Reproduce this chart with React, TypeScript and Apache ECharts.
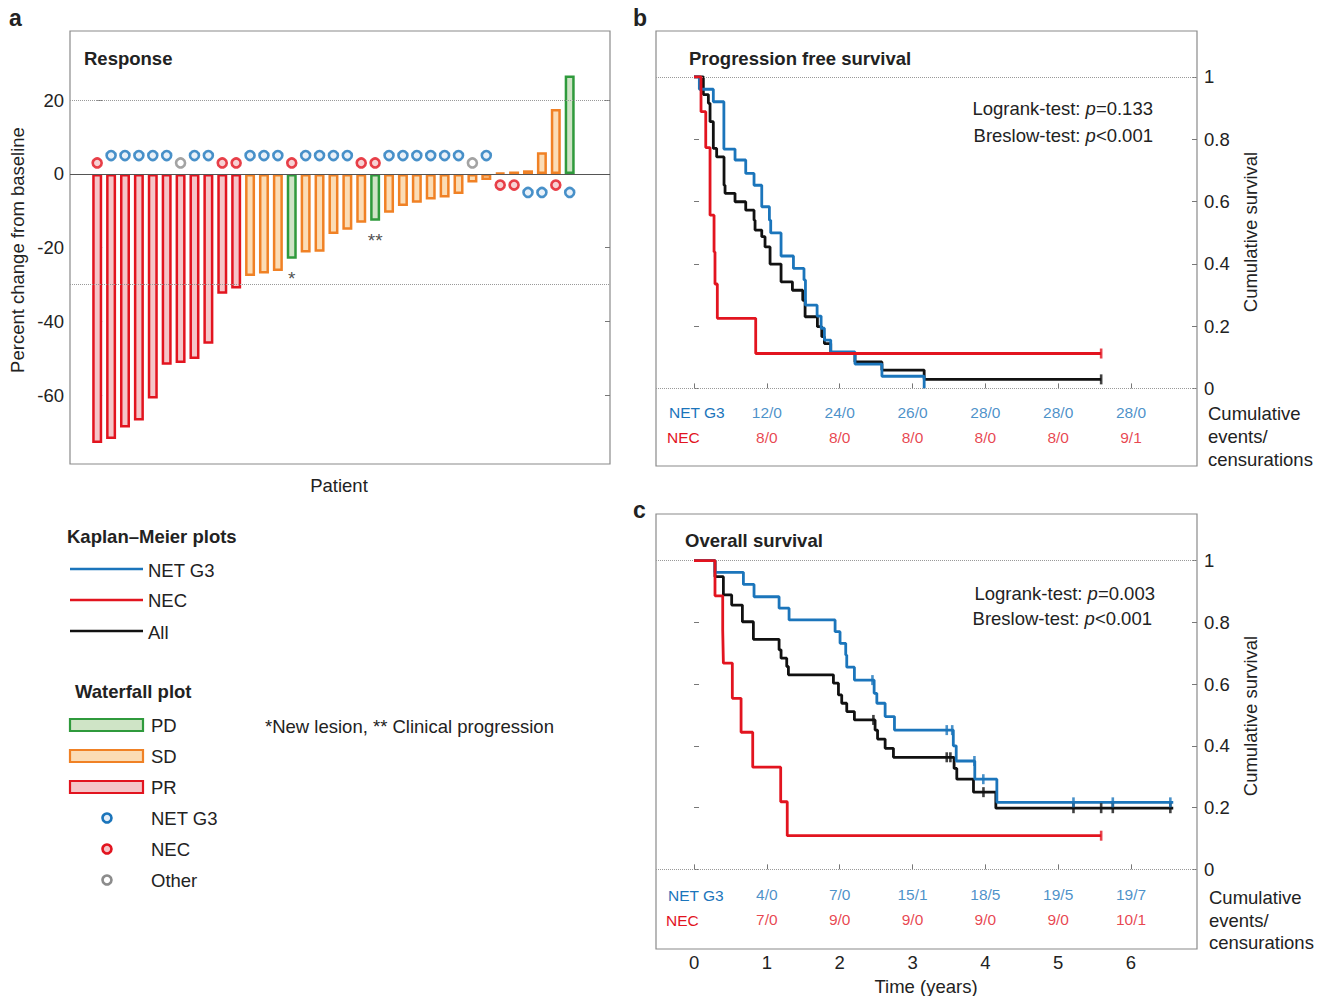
import React, { useEffect, useRef } from 'react';
import * as echarts from 'echarts';

const FONT = '"Liberation Sans", Arial, Helvetica, sans-serif';
const FS = 18.5;

// ---------- Waterfall data ----------
const barValues = [-73.0, -71.9, -68.8, -66.9, -60.9, -51.8, -51.3, -50.2, -46.1, -32.5, -31.1,
  -27.7, -27.0, -26.3, -23.0, -21.3, -21.1, -16.3, -15.1, -13.2, -12.7, -10.5, -8.7, -7.8, -6.9,
  -6.4, -5.4, -2.3, -1.6, 0.3, 0.7, 1.0, 5.9, 17.6, 26.7];
const barResponse = ['PR', 'PR', 'PR', 'PR', 'PR', 'PR', 'PR', 'PR', 'PR', 'PR', 'PR',
  'SD', 'SD', 'SD', 'PD', 'SD', 'SD', 'SD', 'SD', 'SD', 'PD', 'SD', 'SD', 'SD', 'SD',
  'SD', 'SD', 'SD', 'SD', 'SD', 'SD', 'SD', 'SD', 'SD', 'PD'];
const barGroup = ['NEC', 'NET', 'NET', 'NET', 'NET', 'NET', 'Other', 'NET', 'NET', 'NEC', 'NEC',
  'NET', 'NET', 'NET', 'NEC', 'NET', 'NET', 'NET', 'NET', 'NEC', 'NEC', 'NET', 'NET', 'NET', 'NET',
  'NET', 'NET', 'Other', 'NET', 'NEC', 'NEC', 'NET', 'NET', 'NEC', 'NET'];
const barNotes = ['', '', '', '', '', '', '', '', '', '', '', '', '', '', '*', '', '', '', '', '', '**',
  '', '', '', '', '', '', '', '', '', '', '', '', '', ''];
const waterfallTicks = [-60, -40, -20, 0, 20];
const waterfallRefLines = [20, -30];

// ---------- Kaplan-Meier data: [years, survival] ----------
const pfsNec = [[0, 1], [0.096, 0.888], [0.161, 0.773], [0.22, 0.556], [0.275, 0.438], [0.288, 0.335],
  [0.32, 0.225], [0.847, 0.112], [5.59, 0.112]];
const pfsNet = [[0, 1], [0.073, 0.96], [0.265, 0.92], [0.41, 0.768], [0.563, 0.733], [0.71, 0.69],
  [0.824, 0.652], [0.93, 0.583], [1.035, 0.54], [1.053, 0.499], [1.195, 0.425], [1.365, 0.385],
  [1.51, 0.348], [1.53, 0.267], [1.69, 0.232], [1.745, 0.193], [1.79, 0.155], [1.877, 0.117],
  [2.21, 0.078], [2.58, 0.039], [3.16, 0]];
const pfsAll = [[0, 1], [0.128, 0.943], [0.197, 0.915], [0.22, 0.856], [0.265, 0.77], [0.311, 0.743],
  [0.412, 0.652], [0.426, 0.626], [0.563, 0.599], [0.71, 0.572], [0.824, 0.54], [0.838, 0.508],
  [0.93, 0.487], [0.975, 0.454], [1.044, 0.399], [1.195, 0.342], [1.351, 0.315], [1.493, 0.283],
  [1.525, 0.23], [1.694, 0.198], [1.754, 0.166], [1.79, 0.144], [1.877, 0.112], [2.21, 0.085],
  [2.58, 0.059], [3.16, 0.029], [5.59, 0.029]];
const pfsNecCensor = [[5.59, 0.112]];
const pfsAllCensor = [[5.59, 0.029]];

const osNec = [[0, 1], [0.288, 0.886], [0.394, 0.775], [0.403, 0.668], [0.526, 0.554], [0.646, 0.444],
  [0.806, 0.331], [1.19, 0.219], [1.28, 0.109], [5.59, 0.109]];
const osNet = [[0, 1], [0.288, 0.962], [0.678, 0.923], [0.824, 0.883], [1.168, 0.846], [1.305, 0.808],
  [1.937, 0.77], [2.005, 0.732], [2.083, 0.694], [2.097, 0.655], [2.202, 0.613], [2.473, 0.57],
  [2.51, 0.538], [2.624, 0.495], [2.752, 0.451], [3.56, 0.4], [3.6, 0.351], [3.855, 0.292],
  [4.158, 0.217], [6.58, 0.217]];
const osAll = [[0, 1], [0.288, 0.948], [0.403, 0.889], [0.517, 0.856], [0.664, 0.802], [0.815, 0.745],
  [1.168, 0.711], [1.195, 0.684], [1.273, 0.657], [1.296, 0.63], [1.914, 0.603], [1.983, 0.565],
  [2.028, 0.538], [2.097, 0.511], [2.202, 0.484], [2.486, 0.451], [2.52, 0.422], [2.624, 0.392],
  [2.738, 0.363], [3.571, 0.327], [3.608, 0.292], [3.837, 0.25], [4.144, 0.198], [6.58, 0.198]];
const osNecCensor = [[5.59, 0.109]];
const osNetCensor = [[2.45, 0.613], [3.47, 0.451], [3.545, 0.451], [3.85, 0.351], [3.972, 0.292],
  [5.21, 0.217], [5.75, 0.217], [6.54, 0.217]];
const osAllCensor = [[2.463, 0.484], [3.47, 0.363], [3.52, 0.363], [3.974, 0.25], [5.21, 0.198],
  [5.59, 0.198], [5.75, 0.198], [6.54, 0.198]];

// ---------- Number at risk tables ----------
const riskYears = [1, 2, 3, 4, 5, 6];
const pfsNetCounts = ['12/0', '24/0', '26/0', '28/0', '28/0', '28/0'];
const pfsNecCounts = ['8/0', '8/0', '8/0', '8/0', '8/0', '9/1'];
const osNetCounts = ['4/0', '7/0', '15/1', '18/5', '19/5', '19/7'];
const osNecCounts = ['7/0', '9/0', '9/0', '9/0', '9/0', '10/1'];
const survivalTicks = [0, 0.2, 0.4, 0.6, 0.8, 1];
const yearTicks = [0, 1, 2, 3, 4, 5, 6];

// ---------- Styles ----------
const BLUE = '#1b75bb';
const RED = '#e2141f';
const BLACK = '#111111';
const GREY = '#8c8c8c';
const TEXT = '#222222';
const respStroke: Record<string, string> = { PR: '#e2141f', SD: '#f08125', PD: '#2f9a3c' };
const respFill: Record<string, string> = { PR: '#f5c5c8', SD: '#fbdcb5', PD: '#cfe4c6' };
const groupStroke: Record<string, string> = { NET: BLUE, NEC: RED, Other: GREY };
const groupFill: Record<string, string> = { NET: '#e4eef8', NEC: '#f5c5c8', Other: '#ffffff' };

const tickStyle = { color: '#777', width: 1 };

function txt(x: number, y: number, text: string, o: any = {}) {
  return {
    type: 'text',
    x,
    y,
    rotation: o.rotation || 0,
    silent: true,
    z: 100,
    style: {
      text,
      fill: o.color || TEXT,
      fontSize: o.size || FS,
      fontWeight: o.weight || 'normal',
      fontFamily: FONT,
      align: o.align || 'left',
      textAlign: o.align || 'left',
      verticalAlign: 'middle',
      textVerticalAlign: 'middle',
      rich: o.rich,
    },
  };
}

const pRich = {
  n: { fontSize: FS, fontFamily: FONT, fill: TEXT, color: TEXT },
  i: { fontSize: FS, fontFamily: FONT, fontStyle: 'italic', fill: TEXT, color: TEXT },
};

function kmAxesY(gridIndex: number, min: number, max: number) {
  return [
    {
      type: 'value', gridIndex, position: 'left', min, max,
      axisLine: { show: false }, splitLine: { show: false },
      axisTick: { show: true, inside: true, length: 5, customValues: survivalTicks, lineStyle: tickStyle },
      axisLabel: { show: false },
    },
    {
      type: 'value', gridIndex, position: 'right', min, max,
      axisLine: { show: false }, splitLine: { show: false },
      axisTick: { show: true, inside: true, length: 5, customValues: survivalTicks, lineStyle: tickStyle },
      axisLabel: { show: true, customValues: survivalTicks, margin: 7, fontSize: FS, color: TEXT, fontFamily: FONT },
    },
  ];
}

function kmSeries(xi: number, yi: number, net: number[][], nec: number[][], all: number[][],
  cNet: number[][], cNec: number[][], cAll: number[][], netCounts: string[], necCounts: string[],
  rowNet: number, rowNec: number) {
  const line = (data: number[][], color: string, z: number, withRef = false) => ({
    type: 'line', xAxisIndex: xi, yAxisIndex: yi, data, step: 'end', symbol: 'none', z,
    lineStyle: { color, width: 2.8 }, itemStyle: { color },
    markLine: withRef ? {
      silent: true, symbol: 'none', label: { show: false },
      lineStyle: { color: '#999', width: 1, type: 'dotted' },
      data: [{ yAxis: 1 }, { yAxis: 0 }],
    } : undefined,
  });
  const cens = (data: number[][], color: string, z: number) => ({
    type: 'scatter', xAxisIndex: xi, yAxisIndex: yi, data, symbol: 'rect', symbolSize: [2.6, 10], z,
    itemStyle: { color },
  });
  const table = (counts: string[], row: number, color: string) => ({
    type: 'scatter', xAxisIndex: xi, yAxisIndex: yi, symbolSize: 0, z: 5,
    data: riskYears.map((yr, i) => ({ value: [yr, row], name: counts[i] })),
    label: {
      show: true, position: 'inside', formatter: (p: any) => p.name,
      fontSize: 15.5, fontFamily: FONT, color,
    },
  });
  return [
    line(all, BLACK, 3, true), line(net, BLUE, 4), line(nec, RED, 5),
    cens(cAll, BLACK, 6), cens(cNet, BLUE, 7), cens(cNec, RED, 8),
    table(netCounts, rowNet, BLUE), table(necCounts, rowNec, RED),
  ];
}

function buildOption() {
  const barData = barValues.map((v, i) => ({
    value: [i, v],
    itemStyle: { color: respFill[barResponse[i]], borderColor: respStroke[barResponse[i]], borderWidth: 2.5 },
  }));
  const markerData = barValues.map((v, i) => {
    const g = barGroup[i];
    const off = (v < 0 ? 1 : -1) * (g === 'NET' ? 5 : 3);
    return {
      value: [i, off],
      itemStyle: { color: groupFill[g], borderColor: groupStroke[g], borderWidth: 2.6 },
    };
  });
  const noteData = barValues
    .map((v, i) => ({ value: [i, v - 5.3], name: barNotes[i] }))
    .filter((d) => d.name);

  const graphic: any[] = [
    txt(9, 18, 'a', { weight: 'bold', size: 23 }),
    txt(633, 18, 'b', { weight: 'bold', size: 23 }),
    txt(633, 510, 'c', { weight: 'bold', size: 23 }),
    txt(84, 58, 'Response', { weight: 'bold' }),
    txt(17, 250, 'Percent change from baseline', { rotation: Math.PI / 2, align: 'center' }),
    txt(339, 485, 'Patient', { align: 'center' }),
    txt(689, 58, 'Progression free survival', { weight: 'bold' }),
    txt(1153, 108, '{n|Logrank-test: }{i|p}{n|=0.133}', { align: 'right', rich: pRich }),
    txt(1153, 135, '{n|Breslow-test: }{i|p}{n|<0.001}', { align: 'right', rich: pRich }),
    txt(685, 540, 'Overall survival', { weight: 'bold' }),
    txt(1155, 593, '{n|Logrank-test: }{i|p}{n|=0.003}', { align: 'right', rich: pRich }),
    txt(1152, 618, '{n|Breslow-test: }{i|p}{n|<0.001}', { align: 'right', rich: pRich }),
    txt(1250, 232, 'Cumulative survival', { rotation: Math.PI / 2, align: 'center' }),
    txt(1250, 716, 'Cumulative survival', { rotation: Math.PI / 2, align: 'center' }),
    txt(669, 412, 'NET G3', { color: BLUE, size: 15.5 }),
    txt(667, 437, 'NEC', { color: RED, size: 15.5 }),
    txt(668, 895, 'NET G3', { color: BLUE, size: 15.5 }),
    txt(666, 920, 'NEC', { color: RED, size: 15.5 }),
    txt(1208, 413, 'Cumulative'),
    txt(1208, 436, 'events/'),
    txt(1208, 459, 'censurations'),
    txt(1209, 897, 'Cumulative'),
    txt(1209, 920, 'events/'),
    txt(1209, 942, 'censurations'),
    txt(926, 986, 'Time (years)', { align: 'center' }),
    // Legend
    txt(67, 536, 'Kaplan\u2013Meier plots', { weight: 'bold' }),
    { type: 'line', shape: { x1: 70, y1: 569, x2: 143, y2: 569 }, style: { stroke: BLUE, lineWidth: 2.6 }, silent: true },
    { type: 'line', shape: { x1: 70, y1: 600, x2: 143, y2: 600 }, style: { stroke: RED, lineWidth: 2.6 }, silent: true },
    { type: 'line', shape: { x1: 70, y1: 631, x2: 143, y2: 631 }, style: { stroke: BLACK, lineWidth: 2.6 }, silent: true },
    txt(148, 570, 'NET G3'),
    txt(148, 600, 'NEC'),
    txt(148, 632, 'All'),
    txt(75, 691, 'Waterfall plot', { weight: 'bold' }),
    { type: 'rect', shape: { x: 70, y: 719, width: 73, height: 12 }, style: { fill: respFill.PD, stroke: respStroke.PD, lineWidth: 2.2 }, silent: true },
    { type: 'rect', shape: { x: 70, y: 750, width: 73, height: 12 }, style: { fill: respFill.SD, stroke: respStroke.SD, lineWidth: 2.2 }, silent: true },
    { type: 'rect', shape: { x: 70, y: 781, width: 73, height: 12 }, style: { fill: respFill.PR, stroke: respStroke.PR, lineWidth: 2.2 }, silent: true },
    txt(151, 725, 'PD'),
    txt(151, 756, 'SD'),
    txt(151, 787, 'PR'),
    { type: 'circle', shape: { cx: 107, cy: 818, r: 4.5 }, style: { fill: groupFill.NET, stroke: BLUE, lineWidth: 2.6 }, silent: true },
    { type: 'circle', shape: { cx: 107, cy: 849, r: 4.5 }, style: { fill: groupFill.NEC, stroke: RED, lineWidth: 2.6 }, silent: true },
    { type: 'circle', shape: { cx: 107, cy: 880, r: 4.5 }, style: { fill: groupFill.Other, stroke: GREY, lineWidth: 2.6 }, silent: true },
    txt(151, 818, 'NET G3'),
    txt(151, 849, 'NEC'),
    txt(151, 880, 'Other'),
    txt(265, 726, '*New lesion, ** Clinical progression'),
  ];

  return {
    animation: false,
    backgroundColor: '#ffffff',
    textStyle: { fontFamily: FONT },
    grid: [
      { left: 70, top: 31, width: 540, height: 433, show: true, borderColor: '#8a8a8a', borderWidth: 1.2, backgroundColor: 'transparent' },
      { left: 656, top: 31, width: 541, height: 435, show: true, borderColor: '#8a8a8a', borderWidth: 1.2, backgroundColor: 'transparent' },
      { left: 656, top: 514, width: 541, height: 435, show: true, borderColor: '#8a8a8a', borderWidth: 1.2, backgroundColor: 'transparent' },
    ],
    xAxis: [
      { type: 'value', gridIndex: 0, min: -1.957, max: 36.9, show: false, splitLine: { show: false } },
      {
        type: 'value', gridIndex: 1, min: -0.522, max: 6.906,
        axisLine: { show: false }, splitLine: { show: false },
        axisTick: { show: true, inside: true, length: 5, customValues: yearTicks, lineStyle: tickStyle },
        axisLabel: { show: false },
      },
      {
        type: 'value', gridIndex: 2, min: -0.522, max: 6.906,
        axisLine: { show: false }, splitLine: { show: false },
        axisTick: { show: true, inside: true, length: 5, customValues: yearTicks, lineStyle: tickStyle },
        axisLabel: { show: true, customValues: yearTicks, margin: 4, fontSize: FS, color: TEXT, fontFamily: FONT },
      },
    ],
    yAxis: [
      {
        type: 'value', gridIndex: 0, position: 'left', min: -78.7, max: 38.8,
        axisLine: { show: false }, splitLine: { show: false },
        axisTick: { show: true, inside: true, length: 5, customValues: waterfallTicks, lineStyle: tickStyle },
        axisLabel: { show: true, customValues: waterfallTicks, margin: 6, fontSize: FS, color: TEXT, fontFamily: FONT },
      },
      {
        type: 'value', gridIndex: 0, position: 'right', min: -78.7, max: 38.8,
        axisLine: { show: false }, splitLine: { show: false },
        axisTick: { show: true, inside: true, length: 5, customValues: waterfallTicks, lineStyle: tickStyle },
        axisLabel: { show: false },
      },
      ...kmAxesY(1, -0.249, 1.147),
      ...kmAxesY(2, -0.258, 1.151),
    ],
    series: [
      {
        type: 'bar', xAxisIndex: 0, yAxisIndex: 0, data: barData, barWidth: 10, z: 2,
        markLine: {
          silent: true, symbol: 'none', label: { show: false },
          data: [
            ...waterfallRefLines.map((v) => ({ yAxis: v, lineStyle: { color: '#999', width: 1, type: 'dotted' } })),
            { yAxis: 0, lineStyle: { color: '#555', width: 1, type: 'solid' } },
          ],
        },
      },
      {
        type: 'scatter', xAxisIndex: 0, yAxisIndex: 0, data: markerData, symbol: 'circle', symbolSize: 9, z: 4,
      },
      {
        type: 'scatter', xAxisIndex: 0, yAxisIndex: 0, data: noteData, symbolSize: 0, z: 4,
        label: { show: true, position: 'inside', formatter: (p: any) => p.name, fontSize: 19, color: TEXT, fontFamily: FONT },
      },
      ...kmSeries(1, 2, pfsNet, pfsNec, pfsAll, [], pfsNecCensor, pfsAllCensor, pfsNetCounts, pfsNecCounts, -0.076, -0.156),
      ...kmSeries(2, 4, osNet, osNec, osAll, osNetCensor, osNecCensor, osAllCensor, osNetCounts, osNecCounts, -0.083, -0.164),
    ],
    graphic,
  };
}

export default function App() {
  const ref = useRef<HTMLDivElement>(null);
  useEffect(() => {
    if (!ref.current) return;
    const chart = echarts.init(ref.current, null, { renderer: 'svg' });
    chart.setOption(buildOption() as any);
    return () => chart.dispose();
  }, []);
  return (
    <div
      ref={ref}
      style={{ position: 'absolute', left: 0, top: 0, width: 1328, height: 996, background: '#fff' }}
    />
  );
}
